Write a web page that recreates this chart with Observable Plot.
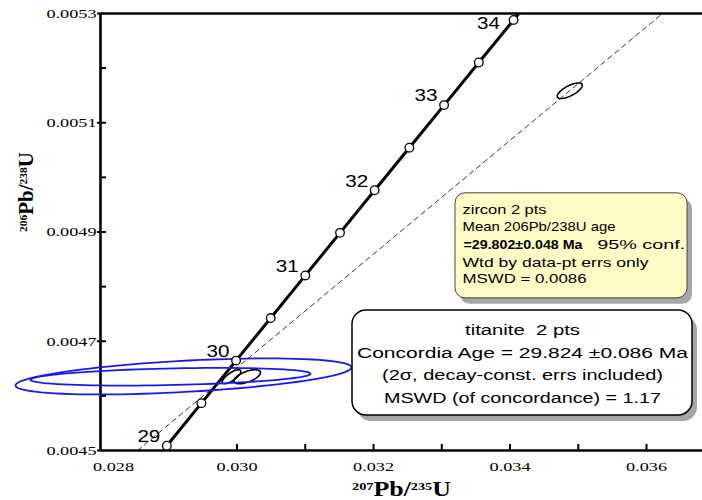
<!DOCTYPE html>
<html><head><meta charset="utf-8">
<script src="https://cdn.jsdelivr.net/npm/d3@7"></script>
<script src="https://cdn.jsdelivr.net/npm/@observablehq/plot@0.6"></script>
<style>html,body{margin:0;padding:0;background:#fff;overflow:hidden}</style>
</head><body><div id="chart"></div>
<script>
// Concordia curve (age in Ma, 207Pb/235U, 206Pb/238U)
const concAge = [29, 29.5, 30, 30.5, 31, 31.5, 32, 32.5, 33, 33.5, 34, 34.5];
const concX = [0.028972, 0.029479, 0.029986, 0.030494, 0.031001, 0.031509, 0.032017, 0.032525, 0.033034, 0.033543, 0.034052, 0.034561];
const concY = [0.0045088, 0.0045867, 0.0046646, 0.0047425, 0.0048205, 0.0048984, 0.0049764, 0.0050543, 0.0051323, 0.0052103, 0.0052882, 0.0053662];
const markerMaxAge = 34;
const labelAges = [29, 30, 31, 32, 33, 34];

// Dashed reference line
const dashX = [0.028542, 0.036234];
const dashY = [0.0045, 0.0053];

// Error ellipses: centre, half extents and correlation
const ellipseName = ["titanite-a", "titanite-b", "zircon-a", "zircon-b", "zircon-c"];
const ellipseMineral = ["titanite", "titanite", "zircon", "zircon", "zircon"];
const ellipseX = [0.029216, 0.029026, 0.029919, 0.030149, 0.034875];
const ellipseY = [0.0046356, 0.004635, 0.004635, 0.004635, 0.0051586];
const ellipseSx = [0.0024615, 0.0020513, 0.000136, 0.000195, 0.000183];
const ellipseSy = [0.000033, 0.0000162, 0.0000128, 0.0000128, 0.0000143];
const ellipseRho = [0.5, 0.34, 0.75, 0.6, 0.7];

// Axis ticks
const xTickAll = [0.029, 0.030, 0.031, 0.032, 0.033, 0.034, 0.035, 0.036];
const xTickLabels = [0.030, 0.032, 0.034, 0.036];
const xFirstLabel = [0.028];
const yTickAll = [0.0046, 0.0047, 0.0048, 0.0049, 0.0050, 0.0051, 0.0052];
const yTickLabels = [0.0045, 0.0047, 0.0049, 0.0051, 0.0053];

// Annotation texts
const zirconLines = ["zircon 2 pts", "Mean 206Pb/238U age", "=29.802\u00b10.048 Ma", "95% conf.", "Wtd by data-pt errs only", "MSWD = 0.0086"];
const titaniteLines = ["titanite  2 pts", "Concordia Age = 29.824 \u00b10.086 Ma", "(2\u03c3, decay-const. errs included)", "MSWD (of concordance) = 1.17"];

// ---- build tables ----
const conc = concAge.map((a, i) => ({age: a, x: concX[i], y: concY[i]}));
const markers = conc.filter(d => d.age <= markerMaxAge);
const labels = conc.filter(d => labelAges.includes(d.age)).map(d => ({...d, text: String(d.age)}));
const dash = dashX.map((x, i) => ({x, y: dashY[i]}));
const ellipsePts = [];
ellipseName.forEach((name, i) => {
  const r = ellipseRho[i], s = Math.sqrt(1 - r * r);
  for (let k = 0; k <= 90; k++) {
    const t = k / 90 * 2 * Math.PI;
    ellipsePts.push({name, mineral: ellipseMineral[i],
      x: ellipseX[i] + ellipseSx[i] * Math.cos(t),
      y: ellipseY[i] + ellipseSy[i] * (r * Math.cos(t) + s * Math.sin(t))});
  }
});

const serif = "'Liberation Serif', 'Times New Roman', serif";
const sans = "'Liberation Sans', Arial, sans-serif";

const yb = {x1: 0.033201, x2: 0.036601, y1: 0.0047785, y2: 0.0049708};
const wb = {x1: 0.031692, x2: 0.036674, y1: 0.0045641, y2: 0.0047565};

const zirconDy = [17, 34, 52, 52, 70, 86];
const zirconDx = [0, 0, 1, 134.7, 0, 0];
const titaniteDy = [20, 43, 65, 88];

const plot = Plot.plot({
  width: 702, height: 500,
  marginLeft: 100, marginRight: 0, marginTop: 13, marginBottom: 50,
  style: {background: "white", fontFamily: sans, color: "black"},
  x: {domain: [0.028, 0.03682]},
  y: {domain: [0.0045, 0.0053]},
  marks: [
    // axes
    Plot.axisX(xTickAll, {tickSize: -6, strokeWidth: 2, tickFormat: () => "", label: null}),
    Plot.axisX(xTickLabels, {tickSize: 0, tickPadding: 11, tickFormat: d => d.toFixed(3), fontFamily: serif, fontSize: 13.5, label: null}),
    Plot.axisX(xFirstLabel, {tickSize: 0, tickPadding: 11, dx: 13, tickFormat: d => d.toFixed(3), fontFamily: serif, fontSize: 13.5, label: null}),
    Plot.axisY(yTickAll, {tickSize: -6, strokeWidth: 2, tickFormat: () => "", label: null}),
    Plot.axisY(yTickLabels, {tickSize: 3, tickPadding: 1, strokeWidth: 2, tickFormat: d => d.toFixed(4), fontFamily: serif, fontSize: 13.5, label: null}),
    Plot.ruleX([0.028], {strokeWidth: 2.6}),
    Plot.ruleY([0.0045, 0.0053], {strokeWidth: 2.6}),
    // dashed line and concordia
    Plot.line(dash, {x: "x", y: "y", stroke: "black", strokeWidth: 0.8, strokeDasharray: "5,4", clip: true}),
    Plot.line(conc, {x: "x", y: "y", stroke: "black", strokeWidth: 3, clip: true}),
    // ellipses
    Plot.line(ellipsePts.filter(d => d.mineral === "zircon"), {x: "x", y: "y", z: "name", stroke: "black", strokeWidth: 1.6}),
    Plot.line(ellipsePts.filter(d => d.mineral === "titanite"), {x: "x", y: "y", z: "name", stroke: "#1a1ae6", strokeWidth: 1.8}),
    Plot.dot(markers, {x: "x", y: "y", r: 4.3, fill: "white", stroke: "black", strokeWidth: 1.3}),
    Plot.text(labels.filter(d => d.age !== 34), {x: "x", y: "y", text: "text", dx: -18, dy: -9, fontSize: 16.5, ariaDescription: "conc-label"}),
    Plot.text(labels.filter(d => d.age === 34), {x: "x", y: "y", text: "text", dx: -25, dy: 4, fontSize: 16.5, ariaDescription: "conc-label"}),
    // axis titles
    Plot.text(["207Pb/235U"], {frameAnchor: "bottom", dy: 45, lineAnchor: "bottom", fontFamily: serif, fontWeight: "bold", fontSize: 20, ariaDescription: "xtitle"}),
    Plot.text(["206Pb/238U"], {frameAnchor: "left", rotate: -90, dx: -68, lineAnchor: "bottom", fontFamily: serif, fontWeight: "bold", fontSize: 20, ariaDescription: "ytitle"}),
    // zircon box
    Plot.rect([0], {...yb, fill: "#a6a6a6", rx: 10, dx: 5, dy: 6}),
    Plot.rect([0], {...yb, fill: "#fdfcc6", stroke: "#444", strokeWidth: 1, rx: 10}),
    ...zirconLines.map((t, i) => Plot.text([t], {x: 0.033304, y: yb.y2, text: d => d, textAnchor: "start", lineAnchor: "middle", dx: zirconDx[i], dy: zirconDy[i], fontSize: 13, fontWeight: i === 2 ? "bold" : "normal", ariaDescription: "box-line"})),
    // titanite box
    Plot.rect([0], {...wb, fill: "#a6a6a6", rx: 14, dx: 5, dy: 6}),
    Plot.rect([0], {...wb, fill: "white", stroke: "black", strokeWidth: 1.5, rx: 14}),
    ...titaniteLines.map((t, i) => Plot.text([t], {x: 0.034183, y: wb.y2, text: d => d, textAnchor: "middle", lineAnchor: "middle", dy: titaniteDy[i], fontSize: 15.5, ariaDescription: "box-line"}))
  ]
});
document.getElementById("chart").appendChild(plot);

// --- post-processing: wide (stretched) lettering as in the reference ---
const boxWidths = {
  "zircon 2 pts": 84, "Mean 206Pb/238U age": 153, "=29.802\u00b10.048 Ma": 119, "95% conf.": 88,
  "Wtd by data-pt errs only": 186, "MSWD = 0.0086": 124,
  "titanite  2 pts": 115, "Concordia Age = 29.824 \u00b10.086 Ma": 331,
  "(2\u03c3, decay-const. errs included)": 281, "MSWD (of concordance) = 1.17": 277
};
const factors = {"x-axis tick label": 1.35, "y-axis tick label": 1.35, "conc-label": 1.25};
function tagOf(t) {
  const gd = t.closest("g[aria-description]");
  if (gd) return gd.getAttribute("aria-description");
  const gl = t.closest("g[aria-label]");
  return gl ? gl.getAttribute("aria-label") : null;
}
plot.querySelectorAll("text").forEach(t => {
  const lab = tagOf(t);
  const w = t.getComputedTextLength();
  if (!w || !lab) return;
  let target = null;
  if (lab === "box-line") target = boxWidths[t.textContent];
  else if (factors[lab]) target = w * factors[lab];
  if (target) { t.setAttribute("textLength", target); t.setAttribute("lengthAdjust", "spacingAndGlyphs"); }
});
function richTitle(label, a, b, total) {
  const t = [...plot.querySelectorAll("text")].find(e => tagOf(e) === label);
  if (!t) return;
  t.textContent = "";
  const ns = "http://www.w3.org/2000/svg";
  const parts = [[a, 11, -6], ["Pb/", 20, 6], [b, 11, -6], ["U", 20, 6]];
  parts.forEach(([s, fs, dy]) => {
    const sp = document.createElementNS(ns, "tspan");
    sp.setAttribute("font-size", fs);
    sp.setAttribute("dy", dy);
    sp.textContent = s;
    t.appendChild(sp);
  });
  t.setAttribute("textLength", total);
  t.setAttribute("lengthAdjust", "spacingAndGlyphs");
}
richTitle("xtitle", "207", "235", 99);
richTitle("ytitle", "206", "238", 80);
</script>
</body></html>
